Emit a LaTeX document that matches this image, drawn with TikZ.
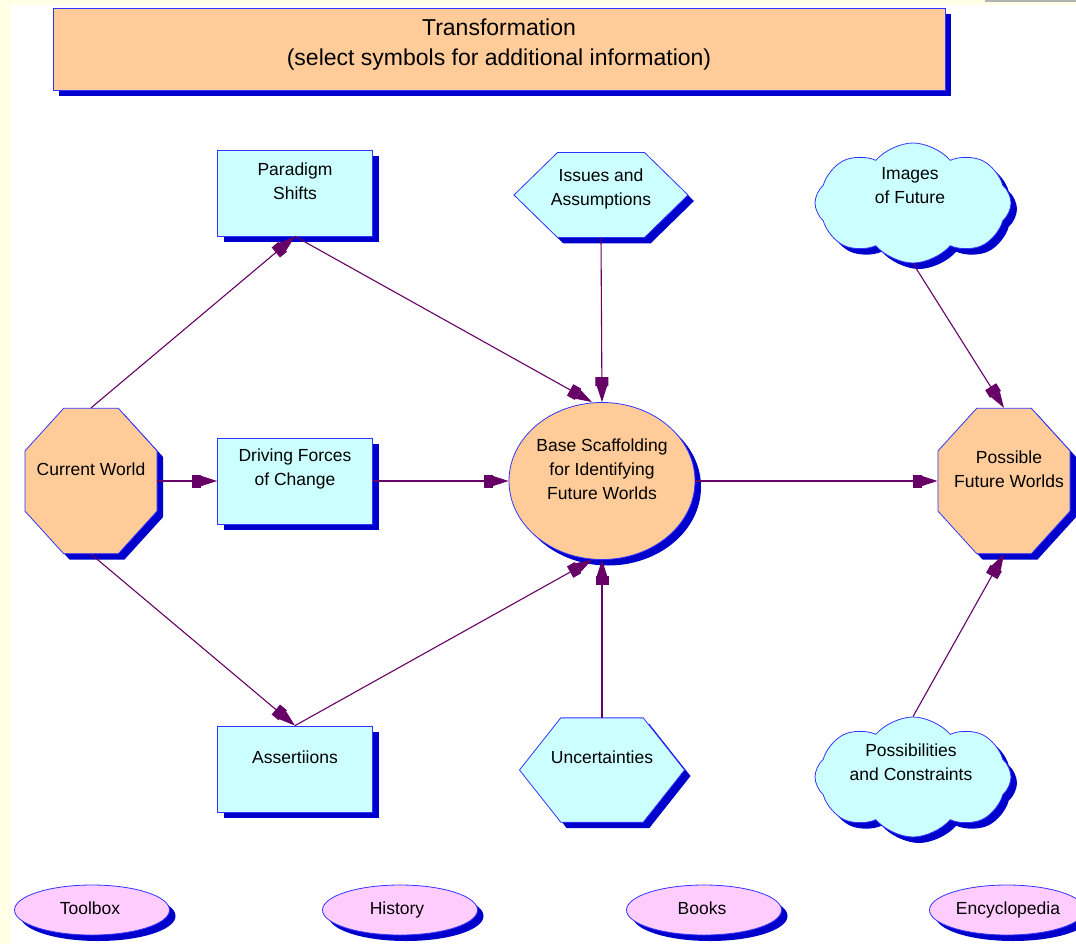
\documentclass[tikz,border=0pt]{standalone}
\usepackage{fontspec}
\setmainfont{Liberation Sans}
\usetikzlibrary{shapes.geometric,shapes.symbols,shadows,arrows.meta}
\definecolor{peach}{HTML}{FFCC99}
\definecolor{skyfill}{HTML}{CCFFFF}
\definecolor{pinkfill}{HTML}{FFCCFF}
\definecolor{shadowblue}{HTML}{0000CC}
\definecolor{rimblue}{HTML}{3333FF}
\definecolor{plum}{HTML}{660066}
\definecolor{cream}{HTML}{FFFFE5}
\tikzset{
  sym/.style={draw=rimblue, line width=0.8pt, inner sep=0pt,
    drop shadow={shadow xshift=6pt, shadow yshift=-6pt, fill=shadowblue, opacity=1}},
  box/.style={sym, rectangle, fill=skyfill, minimum width=155pt, minimum height=86pt},
  octo/.style={sym, regular polygon, regular polygon sides=8, fill=peach,
    minimum size=143pt, yscale=1.1, transform shape},
  hexa/.style={sym, regular polygon, regular polygon sides=6, fill=skyfill},
  puff/.style={sym, cloud, cloud puffs=8, cloud puff arc=100, fill=skyfill,
    minimum width=196pt, minimum height=120pt},
  link/.style={sym, ellipse, fill=pinkfill, minimum width=155pt, minimum height=50pt},
  txt/.style={align=center, font=\fontsize{17.5}{24}\selectfont},
  flowtip/.tip={Rectangle[length=9pt,width=13pt,sep=0pt]Triangle[length=16pt,width=10pt]},
  flow/.style={draw=plum, line width=1.1pt, -{flowtip}}
}
\begin{document}
\begin{tikzpicture}[x=1pt,y=-1pt]
    \useasboundingbox (0,0) rectangle (1076,944);
    \fill[cream] (0,0) rectangle (1076,944);
    \fill[white] (11,5) rectangle (1076,944);
    \fill[gray!60] (985,0) rectangle (1076,2);
    % heading
    \node[sym, rectangle, fill=peach, minimum width=892pt, minimum height=82pt] (head) at (499,49) {};
    \node[align=center, font=\fontsize{23}{30}\selectfont] (head-t) at (499,45)
      {Transformation\\(select symbols for additional information)};
    % shapes
    \node[box] (ps) at (295,193) {};  \node[txt] (ps-t) at (295,181) {Paradigm\\Shifts};
    \node[box] (df) at (295,481) {};  \node[txt] (df-t) at (295,469) {Driving Forces\\of Change};
    \node[box] (as) at (295,769) {};  \node[txt] (as-t) at (295,757) {Assertiions};
    \node[octo] (cw) at (91,481) {};  \node[txt] (cw-t) at (91,469) {Current World};
    \node[octo] (pf) at (1004,481) {}; \node[txt] (pf-t) at (1009,469) {Possible\\Future Worlds};
    \node[sym, ellipse, fill=peach, minimum width=186pt, minimum height=157pt] (bs) at (602,481) {};
    \node[txt] (bs-t) at (602,469) {Base Scaffolding\\for Identifying\\Future Worlds};
    \node[hexa, minimum size=174pt, yscale=0.564, transform shape] (ia) at (601,195) {};
    \node[txt] (ia-t) at (601,189) {Issues and\\Assumptions};
    \node[hexa, minimum size=165pt, yscale=0.73, transform shape] (un) at (602,770) {};
    \node[txt] (un-t) at (602,757) {Uncertainties};
    \node[puff] (iof) at (913,203) {}; \node[txt] (iof-t) at (910,186) {Images\\of Future};
    \node[puff] (pc) at (913,777) {};  \node[txt] (pc-t) at (911,762) {Possibilities\\and Constraints};
    % links
    \node[link] (tb) at (92,910) {};   \node[txt] (tb-t) at (90,908) {Toolbox};
    \node[link] (hi) at (400,910) {};  \node[txt] (hi-t) at (397,910) {History};
    \node[link] (bk) at (704,910) {};  \node[txt] (bk-t) at (702,908) {Books};
    \node[link] (en) at (1007,910) {}; \node[txt] (en-t) at (1008,910) {Encyclopedia};
    % connectors
    \draw[flow] (cw.north) -- (ps.south);
    \draw[flow] (ps.south) -- ([xshift=-10pt]bs.north);
    \draw[flow] (ia.south) -- (bs.north);
    \draw[flow] (cw.east) -- (df.west);
    \draw[flow] (df.east) -- (bs.west);
    \draw[flow] (cw.south) -- (as.north);
    \draw[flow] (as.north) -- ([xshift=-10pt]bs.south);
    \draw[flow] (un.north) -- (bs.south);
    \draw[flow] (bs.east) -- (pf.west);
    \draw[flow] (iof.south) -- (pf.north);
    \draw[flow] (pc.north) -- (pf.south);
\end{tikzpicture}
\end{document}
